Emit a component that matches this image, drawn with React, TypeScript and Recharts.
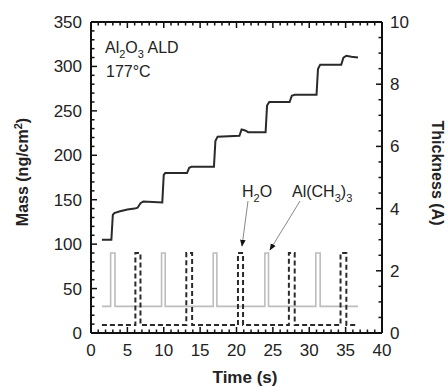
import { ComposedChart, Line, XAxis, YAxis } from 'recharts';

// mass trace (ng/cm2) vs time (s)
const massTime = [1.5, 2.8, 3.0, 3.2, 4.0, 5.0, 6.0, 6.4, 6.8, 7.2, 9.8, 10.0, 10.2, 13.2, 13.5, 13.8, 16.9, 17.1, 17.4, 20.4, 20.7, 21.2, 21.6, 24.0, 24.2, 24.5, 27.3, 27.6, 28.0, 31.0, 31.2, 31.5, 34.4, 34.7, 35.1, 35.8, 36.7];
const massValue = [105, 105, 133, 135, 137, 139, 140, 141, 146, 148, 147, 178, 180, 180, 186, 187, 187, 216, 221, 222, 229, 228, 226, 226, 256, 260, 260, 267, 268, 268, 297, 302, 302, 310, 312, 311, 310];

// Al(CH3)3 valve signal (grey)
const tmaTime = [1.5, 2.7, 2.7, 3.3, 3.3, 9.7, 9.7, 10.2, 10.2, 16.8, 16.8, 17.3, 17.3, 23.9, 23.9, 24.4, 24.4, 30.9, 30.9, 31.5, 31.5, 36.7];
const tmaValue = [30, 30, 90, 90, 30, 30, 90, 90, 30, 30, 90, 90, 30, 30, 90, 90, 30, 30, 90, 90, 30, 30];

// H2O valve signal (dashed)
const waterTime = [1.5, 6.1, 6.1, 6.8, 6.8, 13.1, 13.1, 13.9, 13.9, 20.2, 20.2, 20.9, 20.9, 27.2, 27.2, 28.0, 28.0, 34.3, 34.3, 35.1, 35.1, 36.7];
const waterValue = [9, 9, 90, 90, 9, 9, 90, 90, 9, 9, 90, 90, 9, 9, 90, 90, 9, 9, 90, 90, 9, 9];

const xTicks = Array.from({ length: 41 }, (_, i) => i);
const massTicks = Array.from({ length: 36 }, (_, i) => i * 10);
const thickTicks = Array.from({ length: 21 }, (_, i) => i * 0.5);

const toRows = (t: number[], v: number[]) => t.map((x, i) => ({ t: x, v: v[i] }));
const massData = toRows(massTime, massValue);
const tmaData = toRows(tmaTime, tmaValue);
const waterData = toRows(waterTime, waterValue);

const ink = '#111';
const font = 'Liberation Sans, Arial, sans-serif';
const PLOT_TOP = 22;

// bottom ticks also mirror onto the top frame
function BottomTick({ x, y, payload }: any) {
  const v = payload.value;
  const major = v % 5 === 0;
  const len = major ? 6 : 3.5;
  return (
    <g>
      <line x1={x} x2={x} y1={y} y2={y - len} stroke={ink} strokeWidth={1.5} />
      <line x1={x} x2={x} y1={PLOT_TOP} y2={PLOT_TOP + len} stroke={ink} strokeWidth={1.5} />
      {major && (
        <text x={x} y={y + 23} textAnchor="middle" fontSize={17} fill="#222" fontFamily={font}>
          {v}
        </text>
      )}
    </g>
  );
}

function LeftTick({ x, y, payload }: any) {
  const v = payload.value;
  const major = v % 50 === 0;
  return (
    <g>
      <line x1={x} x2={x + (major ? 6 : 3.5)} y1={y} y2={y} stroke={ink} strokeWidth={1.5} />
      {major && (
        <text x={x - 9} y={y + 6} textAnchor="end" fontSize={17} fill="#222" fontFamily={font}>
          {v}
        </text>
      )}
    </g>
  );
}

function RightTick({ x, y, payload }: any) {
  const v = payload.value;
  const major = v % 2 === 0;
  return (
    <g>
      <line x1={x} x2={x - (major ? 6 : 3.5)} y1={y} y2={y} stroke={ink} strokeWidth={1.5} />
      {major && (
        <text x={x + 8} y={y + 6} textAnchor="start" fontSize={17} fill="#222" fontFamily={font}>
          {v}
        </text>
      )}
    </g>
  );
}

export default function App() {
  return (
    <div style={{ position: 'absolute', left: 0, top: 0, width: 448, height: 387, background: '#fff', fontFamily: font }}>
      <ComposedChart width={448} height={387} margin={{ top: PLOT_TOP - 1, right: 0, bottom: 0, left: 0 }}>
        <XAxis
          dataKey="t"
          type="number"
          domain={[0, 40]}
          ticks={xTicks}
          interval={0}
          height={54}
          tickSize={0}
          tickMargin={0}
          tickLine={false}
          tick={<BottomTick />}
          axisLine={{ stroke: ink, strokeWidth: 2 }}
          allowDataOverflow
        />
        <XAxis
          xAxisId="top"
          orientation="top"
          type="number"
          domain={[0, 40]}
          height={1}
          tick={false}
          tickLine={false}
          axisLine={{ stroke: ink, strokeWidth: 2 }}
        />
        <YAxis
          yAxisId="left"
          type="number"
          domain={[0, 350]}
          ticks={massTicks}
          interval={0}
          width={91}
          tickSize={0}
          tickMargin={0}
          tickLine={false}
          tick={<LeftTick />}
          axisLine={{ stroke: ink, strokeWidth: 2 }}
          allowDataOverflow
        />
        <YAxis
          yAxisId="right"
          orientation="right"
          type="number"
          domain={[0, 10]}
          ticks={thickTicks}
          interval={0}
          width={66}
          tickSize={0}
          tickMargin={0}
          tickLine={false}
          tick={<RightTick />}
          axisLine={{ stroke: ink, strokeWidth: 2 }}
          allowDataOverflow
        />
        <Line
          yAxisId="left"
          data={tmaData}
          dataKey="v"
          type="linear"
          stroke="#bdbdbd"
          strokeWidth={1.6}
          dot={false}
          isAnimationActive={false}
        />
        <Line
          yAxisId="left"
          data={waterData}
          dataKey="v"
          type="linear"
          stroke="#2a2a2a"
          strokeWidth={2}
          strokeDasharray="5 3"
          dot={false}
          isAnimationActive={false}
        />
        <Line
          yAxisId="left"
          data={massData}
          dataKey="v"
          type="linear"
          stroke="#2a2a2a"
          strokeWidth={2}
          dot={false}
          isAnimationActive={false}
        />
      </ComposedChart>

      <svg width={448} height={387} style={{ position: 'absolute', left: 0, top: 0, pointerEvents: 'none' }}>
        <defs>
          <marker id="head" viewBox="0 0 10 10" refX="9" refY="5" markerWidth="7" markerHeight="7" orient="auto">
            <path d="M0,1 L10,5 L0,9 z" fill="#111" />
          </marker>
        </defs>
        <text x={105} y={53} fontSize={16} fill="#222">
          Al<tspan dy={5} fontSize={11}>2</tspan>
          <tspan dy={-5}>O</tspan>
          <tspan dy={5} fontSize={11}>3</tspan>
          <tspan dy={-5}> ALD</tspan>
        </text>
        <text x={106} y={77} fontSize={16} fill="#222">177°C</text>

        <text x={242} y={197} fontSize={16} fill="#222">
          H<tspan dy={5} fontSize={11}>2</tspan>
          <tspan dy={-5}>O</tspan>
        </text>
        <text x={292} y={197} fontSize={16} fill="#222">
          Al(CH<tspan dy={5} fontSize={11}>3</tspan>
          <tspan dy={-5}>)</tspan>
          <tspan dy={5} fontSize={11}>3</tspan>
        </text>
        <line x1={248} y1={201} x2={242} y2={246} stroke="#888" strokeWidth={1} markerEnd="url(#head)" />
        <line x1={300} y1={201} x2={270} y2={250} stroke="#888" strokeWidth={1} markerEnd="url(#head)" />

        <text x={245} y={383} textAnchor="middle" fontSize={17} fontWeight="bold" fill="#222">
          Time (s)
        </text>
        <text transform="translate(28,172) rotate(-90)" textAnchor="middle" fontSize={16} fontWeight="bold" fill="#222">
          Mass (ng/cm<tspan dy={-6} fontSize={11}>2</tspan>
          <tspan dy={6}>)</tspan>
        </text>
        <text transform="translate(432,173) rotate(90)" textAnchor="middle" fontSize={16} fontWeight="bold" fill="#222">
          Thickness (A)
        </text>
      </svg>
    </div>
  );
}
